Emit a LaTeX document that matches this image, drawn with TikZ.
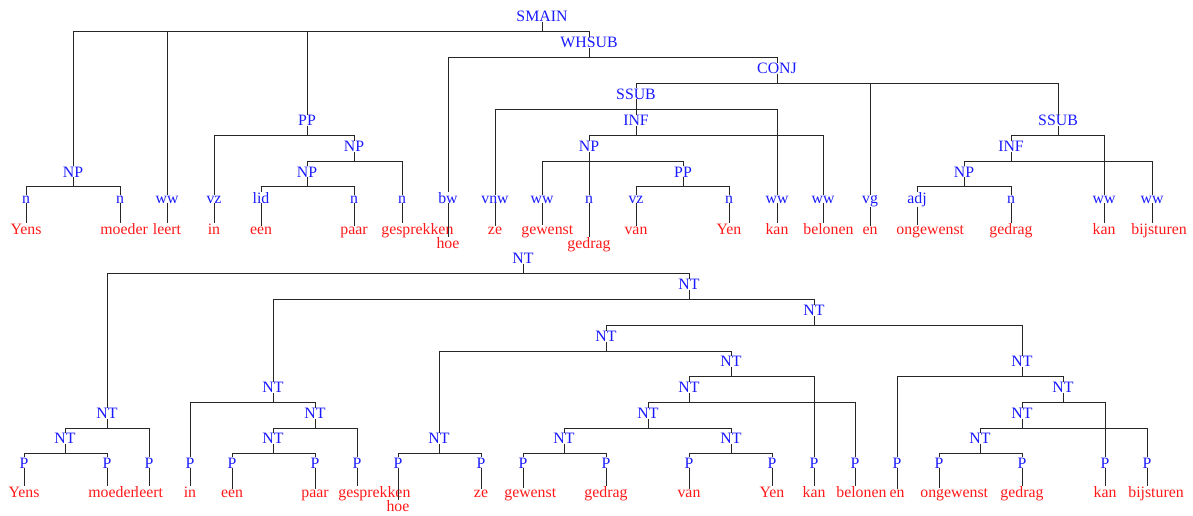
\documentclass[tikz,border=0pt]{standalone}
\usepackage{fontspec}
\setmainfont{Liberation Serif}
\usepackage{tikz}
\definecolor{catblue}{RGB}{25,25,255}
\definecolor{wordred}{RGB}{255,25,25}
\begin{document}
\begin{tikzpicture}[x=0.6pt,y=-0.6pt]
                \tikzstyle{every node}+=[inner sep=0pt,anchor=base,font=\fontsize{9.5}{11}\selectfont]
                \tikzstyle{cat}=[text=catblue]
                \tikzstyle{wrd}=[text=wordred]
                \tikzstyle{longwrd}=[wrd,anchor=base west]
                \tikzstyle{bar}=[black!85,line width=0.55pt]
                \useasboundingbox (0,0) rectangle (1193,515);
                \node [cat] (smain) at (542,21.5) {SMAIN};
                \node [cat] (whsub) at (589,47.5) {WHSUB};
                \node [cat] (conj) at (777,73.5) {CONJ};
                \node [cat] (ssuba) at (636,99) {SSUB};
                \node [cat] (ppa) at (307,125.5) {PP};
                \node [cat] (infa) at (636,125.5) {INF};
                \node [cat] (ssubb) at (1058,125.5) {SSUB};
                \node [cat] (npb) at (354,151.5) {NP};
                \node [cat] (npd) at (589,151.5) {NP};
                \node [cat] (infb) at (1011,151.5) {INF};
                \node [cat] (npa) at (73,177) {NP};
                \node [cat] (npc) at (307,177) {NP};
                \node [cat] (ppb) at (683,177) {PP};
                \node [cat] (npe) at (964,177) {NP};
                \node [cat] (t1) at (26,203) {n};
                \node [cat] (t2) at (120,203) {n};
                \node [cat] (t3) at (167,203) {ww};
                \node [cat] (t4) at (214,203) {vz};
                \node [cat] (t5) at (261,203) {lid};
                \node [cat] (t6) at (354,203) {n};
                \node [cat] (t7) at (402,203) {n};
                \node [cat] (t8) at (448,203) {bw};
                \node [cat] (t9) at (495,203) {vnw};
                \node [cat] (t10) at (542,203) {ww};
                \node [cat] (t11) at (589,203) {n};
                \node [cat] (t12) at (636,203) {vz};
                \node [cat] (t13) at (729,203) {n};
                \node [cat] (t14) at (777,203) {ww};
                \node [cat] (t15) at (823,203) {ww};
                \node [cat] (t16) at (870,203) {vg};
                \node [cat] (t17) at (917,203) {adj};
                \node [cat] (t18) at (1011,203) {n};
                \node [cat] (t19) at (1104,203) {ww};
                \node [cat] (t20) at (1152,203) {ww};
                \node [wrd] (w1) at (26,234) {Yens};
                \node [longwrd] (w2) at (100,234) {moeder};
                \node [wrd] (w3) at (167,234) {leert};
                \node [wrd] (w4) at (214,234) {in};
                \node [wrd] (w5) at (261,234) {een};
                \node [wrd] (w6) at (354,234) {paar};
                \node [longwrd] (w7) at (381,234) {gesprekken};
                \node [wrd] (w8) at (448,248) {hoe};
                \node [wrd] (w9) at (495,234) {ze};
                \node [longwrd] (w10) at (521,234) {gewenst};
                \node [wrd] (w11) at (589,248) {gedrag};
                \node [wrd] (w12) at (636,234) {van};
                \node [wrd] (w13) at (729,234) {Yen};
                \node [wrd] (w14) at (777,234) {kan};
                \node [longwrd] (w15) at (803,234) {belonen};
                \node [wrd] (w16) at (870,234) {en};
                \node [longwrd] (w17) at (896,234) {ongewenst};
                \node [wrd] (w18) at (1011,234) {gedrag};
                \node [wrd] (w19) at (1104,234) {kan};
                \node [longwrd] (w20) at (1131,234) {bijsturen};
                \draw [bar] (smain.south) -- ++(0,9.5) -| (npa.north);
                \draw [bar] (smain.south) -- ++(0,9.5) -| (t3.north);
                \draw [bar] (smain.south) -- ++(0,9.5) -| (ppa.north);
                \draw [bar] (smain.south) -- ++(0,9.5) -| (whsub.north);
                \draw [bar] (npa.south) -- ++(0,9.5) -| (t1.north);
                \draw [bar] (npa.south) -- ++(0,9.5) -| (t2.north);
                \draw [bar] (ppa.south) -- ++(0,9.5) -| (t4.north);
                \draw [bar] (ppa.south) -- ++(0,9.5) -| (npb.north);
                \draw [bar] (npb.south) -- ++(0,9.5) -| (npc.north);
                \draw [bar] (npb.south) -- ++(0,9.5) -| (t7.north);
                \draw [bar] (npc.south) -- ++(0,9.5) -| (t5.north);
                \draw [bar] (npc.south) -- ++(0,9.5) -| (t6.north);
                \draw [bar] (whsub.south) -- ++(0,9.5) -| (t8.north);
                \draw [bar] (whsub.south) -- ++(0,9.5) -| (conj.north);
                \draw [bar] (conj.south) -- ++(0,9.5) -| (ssuba.north);
                \draw [bar] (conj.south) -- ++(0,9.5) -| (t16.north);
                \draw [bar] (conj.south) -- ++(0,9.5) -| (ssubb.north);
                \draw [bar] (ssuba.south) -- ++(0,9.5) -| (t9.north);
                \draw [bar] (ssuba.south) -- ++(0,9.5) -| (infa.north);
                \draw [bar] (ssuba.south) -- ++(0,9.5) -| (t14.north);
                \draw [bar] (infa.south) -- ++(0,9.5) -| (npd.north);
                \draw [bar] (infa.south) -- ++(0,9.5) -| (t15.north);
                \draw [bar] (npd.south) -- ++(0,9.5) -| (t10.north);
                \draw [bar] (npd.south) -- ++(0,9.5) -| (t11.north);
                \draw [bar] (npd.south) -- ++(0,9.5) -| (ppb.north);
                \draw [bar] (ppb.south) -- ++(0,9.5) -| (t12.north);
                \draw [bar] (ppb.south) -- ++(0,9.5) -| (t13.north);
                \draw [bar] (ssubb.south) -- ++(0,9.5) -| (infb.north);
                \draw [bar] (ssubb.south) -- ++(0,9.5) -| (t19.north);
                \draw [bar] (infb.south) -- ++(0,9.5) -| (npe.north);
                \draw [bar] (infb.south) -- ++(0,9.5) -| (t20.north);
                \draw [bar] (npe.south) -- ++(0,9.5) -| (t17.north);
                \draw [bar] (npe.south) -- ++(0,9.5) -| (t18.north);
                \foreach \i in {1,...,20}
                  \draw [bar] (t\i.south) -- (t\i.south |- w\i.north);
                \node [cat] (a1) at (523,263.5) {NT};
                \node [cat] (a3) at (689,289.5) {NT};
                \node [cat] (a6) at (814,315.5) {NT};
                \node [cat] (a9) at (606,341.5) {NT};
                \node [cat] (a10) at (1022,366.5) {NT};
                \node [cat] (a12) at (731,366.5) {NT};
                \node [cat] (a5) at (273,392.5) {NT};
                \node [cat] (a13) at (689,392.5) {NT};
                \node [cat] (a17) at (1063,392.5) {NT};
                \node [cat] (a2) at (107,418.5) {NT};
                \node [cat] (a7) at (315,418.5) {NT};
                \node [cat] (a14) at (648,418.5) {NT};
                \node [cat] (a18) at (1022,418.5) {NT};
                \node [cat] (a4) at (65,443.5) {NT};
                \node [cat] (a8) at (273,443.5) {NT};
                \node [cat] (a11) at (439,443.5) {NT};
                \node [cat] (a15) at (564,443.5) {NT};
                \node [cat] (a16) at (731,443.5) {NT};
                \node [cat] (a19) at (980,443.5) {NT};
                \foreach \i/\x in {1/24,2/107,3/149,4/190,5/232,6/315,7/357,8/398,9/481,10/523,11/606,12/689,13/772,14/814,15/855,16/897,17/939,18/1022,19/1105,20/1147}
                  \node [cat] (p\i) at (\x,468) {P};
                \node [wrd] (v1) at (24,497) {Yens};
                \node [longwrd] (v2) at (88,497) {moeder};
                \node [wrd] (v3) at (149,497) {leert};
                \node [wrd] (v4) at (190,497) {in};
                \node [wrd] (v5) at (232,497) {een};
                \node [wrd] (v6) at (315,497) {paar};
                \node [longwrd] (v7) at (338,497) {gesprekken};
                \node [wrd] (v8) at (398,511) {hoe};
                \node [wrd] (v9) at (481,497) {ze};
                \node [longwrd] (v10) at (504,497) {gewenst};
                \node [wrd] (v11) at (606,497) {gedrag};
                \node [wrd] (v12) at (689,497) {van};
                \node [wrd] (v13) at (772,497) {Yen};
                \node [wrd] (v14) at (814,497) {kan};
                \node [longwrd] (v15) at (836,497) {belonen};
                \node [wrd] (v16) at (897,497) {en};
                \node [longwrd] (v17) at (920,497) {ongewenst};
                \node [wrd] (v18) at (1022,497) {gedrag};
                \node [wrd] (v19) at (1105,497) {kan};
                \node [longwrd] (v20) at (1128,497) {bijsturen};
                \foreach \u/\v in {a1/a2,a1/a3,a2/a4,a2/p3,a4/p1,a4/p2,a3/a5,a3/a6,a5/p4,a5/a7,a7/a8,a7/p7,a8/p5,a8/p6,a6/a9,a6/a10,a9/a11,a9/a12,a11/p8,a11/p9,a12/a13,a12/p14,a13/a14,a13/p15,a14/a15,a14/a16,a15/p10,a15/p11,a16/p12,a16/p13,a10/p16,a10/a17,a17/a18,a17/p19,a18/a19,a18/p20,a19/p17,a19/p18}
                  \draw [bar] (\u.south) -- ++(0,9.5) -| (\v.north);
                \foreach \i in {1,...,20}
                  \draw [bar] (p\i.south) -- (p\i.south |- v\i.north);
              \end{tikzpicture}
\end{document}
